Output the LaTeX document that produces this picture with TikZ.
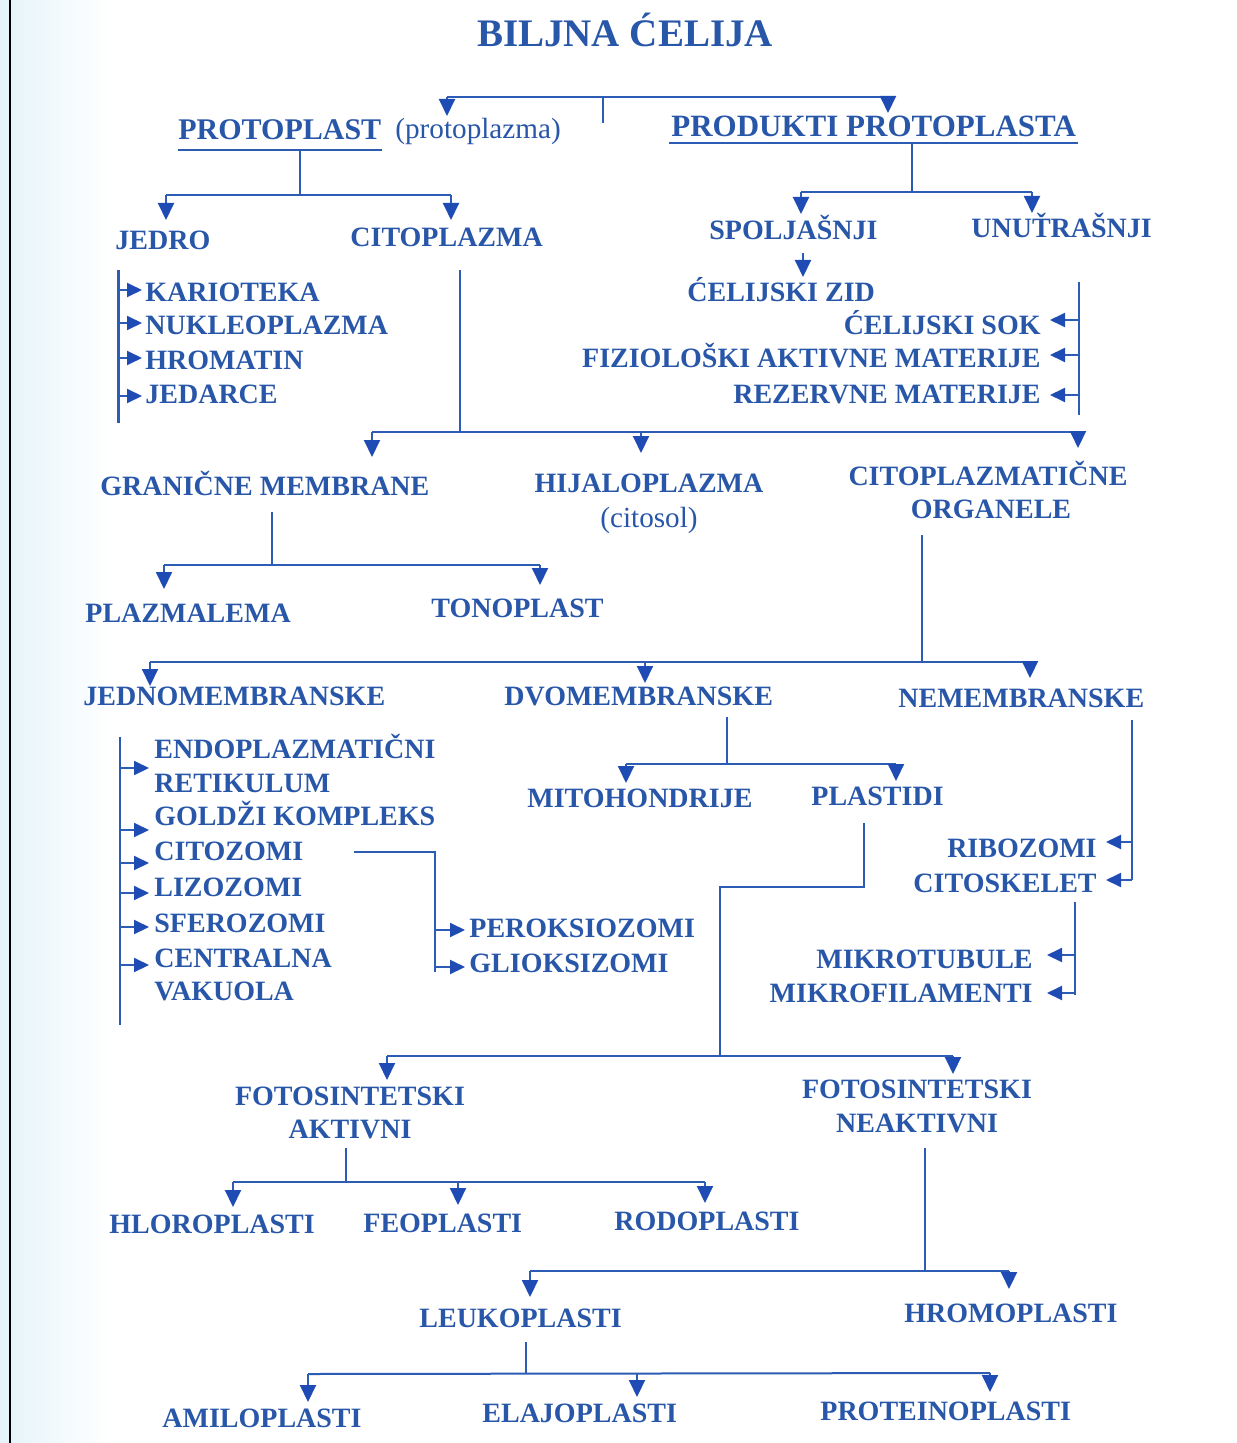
\documentclass[tikz,border=0pt]{standalone}
\usepackage{fontspec}
\setmainfont{Liberation Serif}
\usetikzlibrary{arrows.meta}
\definecolor{cblue}{RGB}{40,86,168}
\definecolor{lblue}{RGB}{45,92,180}
\definecolor{ablue}{RGB}{30,75,180}
\definecolor{fadeblue}{RGB}{228,243,250}
\tikzset{
  lbl/.style={font=\bfseries\fontsize{14}{16}\selectfont, text=cblue, inner sep=0pt, anchor=base west},
  lblr/.style={lbl, anchor=base east},
  lblc/.style={lbl, anchor=base},
  hdr/.style={lbl, font=\bfseries\fontsize{15}{17}\selectfont},
  reg/.style={lbl, font=\fontsize{14.6}{17}\selectfont},
  ln/.style={draw=lblue, line width=1pt},
  arrd/.style={ln, -{Triangle[width=8pt,length=8.5pt,color=ablue]}},
  arrh/.style={ln, -{Triangle[width=7pt,length=7.5pt,color=ablue]}},
}
\begin{document}
\begin{tikzpicture}[x=0.5pt,y=-0.5pt]
\useasboundingbox (0,0) rectangle (1236,1443);
\fill[white] (0,0) rectangle (1236,1443);
\shade[left color=fadeblue, right color=white] (0,0) rectangle (110,1443);
\draw[black, line width=1pt] (10,0) -- (10,1443);

% ---------- title and level 1
\node[lblc, font=\bfseries\fontsize{19.5}{22}\selectfont] (title) at (625,47) {BILJNA ĆELIJA};
\coordinate (s0) at (603,123); \coordinate (s0t) at (603,97);
\coordinate (b0l) at (447,97); \coordinate (b0r) at (888,97);
\coordinate (a0l) at (447,116); \coordinate (a0r) at (888,113);
\draw[ln] (s0) -- (s0t);
\draw[ln] (b0l) -- (b0r);
\draw[arrd] (b0l) -- (a0l);
\draw[arrd] (b0r) -- (a0r);

\node[hdr] (proto) at (178,140) {PROTOPLAST};
\node[reg] (protoz) at (395,139) {(protoplazma)};
\draw[ln] ([yshift=-5pt]proto.base west) -- ([yshift=-5pt]proto.base east);
\node[hdr, font=\bfseries\fontsize{15.5}{17}\selectfont] (prod) at (671,137) {PRODUKTI PROTOPLASTA};
\draw[ln] ([xshift=-1pt,yshift=-3pt]prod.base west) -- ([xshift=1pt,yshift=-3pt]prod.base east);

% ---------- protoplast
\coordinate (p1) at (300,150); \coordinate (p2) at (300,195);
\coordinate (p3l) at (166,195); \coordinate (p3r) at (451,195);
\coordinate (p4l) at (166,220); \coordinate (p4r) at (451,220);
\draw[ln] (p1) -- (p2);
\draw[ln] (p3l) -- (p3r);
\draw[arrd] (p3l) -- (p4l);
\draw[arrd] (p3r) -- (p4r);
\node[lbl] (jedro) at (115,250) {JEDRO};
\node[lbl] (citop) at (350,247) {CITOPLAZMA};

% jedro bracket
\coordinate (j1) at (118,270); \coordinate (j2) at (118,423);
\draw[ln, line width=1.5pt] (j1) -- (j2);
\coordinate (ja1) at (118,290); \coordinate (jb1) at (142,290);
\coordinate (ja2) at (118,323); \coordinate (jb2) at (142,323);
\coordinate (ja3) at (118,358); \coordinate (jb3) at (142,358);
\coordinate (ja4) at (118,396); \coordinate (jb4) at (142,396);
\draw[arrh] (ja1) -- (jb1);
\draw[arrh] (ja2) -- (jb2);
\draw[arrh] (ja3) -- (jb3);
\draw[arrh] (ja4) -- (jb4);
\node[lbl] (kar) at (145,302) {KARIOTEKA};
\node[lbl] (nuk) at (145,335) {NUKLEOPLAZMA};
\node[lbl] (hro) at (145,370) {HROMATIN};
\node[lbl] (jed) at (145,403) {JEDARCE};

% ---------- produkti
\coordinate (q1) at (912,143); \coordinate (q2) at (912,192);
\coordinate (q3l) at (801,192); \coordinate (q3r) at (1032,192);
\coordinate (q4l) at (801,214); \coordinate (q4r) at (1032,213);
\draw[ln] (q1) -- (q2);
\draw[ln] (q3l) -- (q3r);
\draw[arrd] (q3l) -- (q4l);
\draw[arrd] (q3r) -- (q4r);
\node[lbl] (spolj) at (709,240) {SPOLJAŠNJI};
\node[lbl] (unut) at (971,238) {UNUŤRAŠNJI};
\coordinate (sa) at (803,253); \coordinate (sb) at (803,277);
\draw[arrd] (sa) -- (sb);
\node[lbl] (zid) at (687,302) {ĆELIJSKI ZID};

\coordinate (r1) at (1079,282); \coordinate (r2) at (1079,415);
\draw[ln] (r1) -- (r2);
\coordinate (ra1) at (1079,320); \coordinate (rb1) at (1050,320);
\coordinate (ra2) at (1079,355); \coordinate (rb2) at (1050,355);
\coordinate (ra3) at (1079,395); \coordinate (rb3) at (1050,395);
\draw[arrh] (ra1) -- (rb1);
\draw[arrh] (ra2) -- (rb2);
\draw[arrh] (ra3) -- (rb3);
\node[lblr] (sok) at (1041,335) {ĆELIJSKI SOK};
\node[lblr] (fiz) at (1041,368) {FIZIOLOŠKI AKTIVNE MATERIJE};
\node[lblr] (rez) at (1041,403) {REZERVNE MATERIJE};

% ---------- citoplazma
\coordinate (c1) at (460,270); \coordinate (c2) at (460,432);
\coordinate (c3l) at (372,432); \coordinate (c3m) at (641,432); \coordinate (c3r) at (1078,432);
\coordinate (c4l) at (372,457); \coordinate (c4m) at (641,453); \coordinate (c4r) at (1078,448);
\draw[ln] (c1) -- (c2);
\draw[ln] (c3l) -- (c3r);
\draw[arrd] (c3l) -- (c4l);
\draw[arrd] (c3m) -- (c4m);
\draw[arrd] (c3r) -- (c4r);
\node[lbl] (gran) at (100,495) {GRANIČNE MEMBRANE};
\node[lblc] (hij) at (649,492) {HIJALOPLAZMA};
\node[lblc, font=\fontsize{14.6}{17}\selectfont] (cits) at (649,527) {(citosol)};
\node[lblc] (org1) at (988,485) {CITOPLAZMATIČNE};
\node[lblc] (org2) at (991,518) {ORGANELE};

% granicne membrane
\coordinate (g1) at (272,512); \coordinate (g2) at (272,565);
\coordinate (g3l) at (164,565); \coordinate (g3r) at (540,565);
\coordinate (g4l) at (164,589); \coordinate (g4r) at (540,585);
\draw[ln] (g1) -- (g2);
\draw[ln] (g3l) -- (g3r);
\draw[arrd] (g3l) -- (g4l);
\draw[arrd] (g3r) -- (g4r);
\node[lbl] (plaz) at (85,622) {PLAZMALEMA};
\node[lbl] (tono) at (431,617) {TONOPLAST};

% organele
\coordinate (o1) at (922,535); \coordinate (o2) at (922,662);
\coordinate (o3l) at (150,662); \coordinate (o3m) at (645,662); \coordinate (o3r) at (1030,662);
\coordinate (o4l) at (150,686); \coordinate (o4m) at (645,683); \coordinate (o4r) at (1030,678);
\draw[ln] (o1) -- (o2);
\draw[ln] (o3l) -- (o3r);
\draw[arrd] (o3l) -- (o4l);
\draw[arrd] (o3m) -- (o4m);
\draw[arrd] (o3r) -- (o4r);
\node[lbl] (jedn) at (83,705) {JEDNOMEMBRANSKE};
\node[lbl] (dvom) at (504,705) {DVOMEMBRANSKE};
\node[lbl] (nemem) at (898,707) {NEMEMBRANSKE};

% jednomembranske bracket
\coordinate (e1) at (120,737); \coordinate (e2) at (120,1025);
\draw[ln] (e1) -- (e2);
\foreach \yy [count=\i] in {768,830,863,893,927,965} {
  \coordinate (ea\i) at (120,\yy); \coordinate (eb\i) at (149,\yy);
  \draw[arrh] (ea\i) -- (eb\i);
}
\node[lbl] (endo) at (154,758) {ENDOPLAZMATIČNI};
\node[lbl] (ret) at (154,792) {RETIKULUM};
\node[lbl] (gold) at (154,825) {GOLDŽI KOMPLEKS};
\node[lbl] (citoz) at (154,860) {CITOZOMI};
\node[lbl] (lizo) at (154,896) {LIZOZOMI};
\node[lbl] (sfer) at (154,932) {SFEROZOMI};
\node[lbl] (cent) at (154,967) {CENTRALNA};
\node[lbl] (vak) at (154,1000) {VAKUOLA};

% citozomi
\coordinate (z1) at (354,852); \coordinate (z2) at (435,852); \coordinate (z3) at (435,972);
\draw[ln] (z1) -- (z2) -- (z3);
\coordinate (za1) at (435,930); \coordinate (zb1) at (465,930);
\coordinate (za2) at (435,967); \coordinate (zb2) at (465,967);
\draw[arrh] (za1) -- (zb1);
\draw[arrh] (za2) -- (zb2);
\node[lbl] (perok) at (469,937) {PEROKSIOZOMI};
\node[lbl] (gliok) at (469,972) {GLIOKSIZOMI};

% dvomembranske
\coordinate (d1) at (727,717); \coordinate (d2) at (727,764);
\coordinate (d3l) at (626,764); \coordinate (d3r) at (896,764);
\coordinate (d4l) at (626,783); \coordinate (d4r) at (896,781);
\draw[ln] (d1) -- (d2);
\draw[ln] (d3l) -- (d3r);
\draw[arrd] (d3l) -- (d4l);
\draw[arrd] (d3r) -- (d4r);
\node[lbl] (mito) at (527,807) {MITOHONDRIJE};
\node[lbl] (plast) at (811,805) {PLASTIDI};

% nemembranske
\coordinate (n1) at (1132,720); \coordinate (n2) at (1132,880);
\draw[ln] (n1) -- (n2);
\coordinate (na1) at (1132,842); \coordinate (nb1) at (1106,842);
\coordinate (na2) at (1132,880); \coordinate (nb2) at (1106,880);
\draw[arrh] (na1) -- (nb1);
\draw[arrh] (na2) -- (nb2);
\node[lblr] (ribo) at (1097,857) {RIBOZOMI};
\node[lblr] (citsk) at (1097,892) {CITOSKELET};
\coordinate (k1) at (1075,902); \coordinate (k2) at (1075,995);
\draw[ln] (k1) -- (k2);
\coordinate (ka1) at (1075,955); \coordinate (kb1) at (1047,955);
\coordinate (ka2) at (1075,993); \coordinate (kb2) at (1047,993);
\draw[arrh] (ka1) -- (kb1);
\draw[arrh] (ka2) -- (kb2);
\node[lblr] (mtub) at (1033,968) {MIKROTUBULE};
\node[lblr] (mfil) at (1033,1002) {MIKROFILAMENTI};

% plastidi
\coordinate (l1) at (864,823); \coordinate (l2) at (864,887);
\coordinate (l3) at (720,887); \coordinate (l4) at (720,1056);
\coordinate (l5l) at (387,1056); \coordinate (l5r) at (953,1056);
\coordinate (l6l) at (387,1080); \coordinate (l6r) at (953,1074);
\draw[ln] (l1) -- (l2) -- (l3) -- (l4);
\draw[ln] (l5l) -- (l5r);
\draw[arrd] (l5l) -- (l6l);
\draw[arrd] (l5r) -- (l6r);
\node[lblc] (fa1) at (350,1105) {FOTOSINTETSKI};
\node[lblc] (fa2) at (350,1138) {AKTIVNI};
\node[lblc] (fn1) at (917,1098) {FOTOSINTETSKI};
\node[lblc] (fn2) at (917,1132) {NEAKTIVNI};

% aktivni
\coordinate (f1) at (346,1148); \coordinate (f2) at (346,1182);
\coordinate (f3l) at (233,1182); \coordinate (f3m) at (458,1182); \coordinate (f3r) at (705,1182);
\coordinate (f4l) at (233,1207); \coordinate (f4m) at (458,1205); \coordinate (f4r) at (705,1203);
\draw[ln] (f1) -- (f2);
\draw[ln] (f3l) -- (f3r);
\draw[arrd] (f3l) -- (f4l);
\draw[arrd] (f3m) -- (f4m);
\draw[arrd] (f3r) -- (f4r);
\node[lbl] (hlor) at (109,1233) {HLOROPLASTI};
\node[lbl] (feo) at (363,1232) {FEOPLASTI};
\node[lbl] (rodo) at (614,1230) {RODOPLASTI};

% neaktivni
\coordinate (h1) at (925,1148); \coordinate (h2) at (925,1271);
\coordinate (h3l) at (530,1271); \coordinate (h3r) at (1009,1271);
\coordinate (h4l) at (530,1297); \coordinate (h4r) at (1009,1289);
\draw[ln] (h1) -- (h2);
\draw[ln] (h3l) -- (h3r);
\draw[arrd] (h3l) -- (h4l);
\draw[arrd] (h3r) -- (h4r);
\node[lbl] (leuk) at (419,1327) {LEUKOPLASTI};
\node[lbl] (hrom) at (904,1322) {HROMOPLASTI};

% leukoplasti
\coordinate (v1) at (526,1342); \coordinate (v2) at (526,1374);
\coordinate (v3l) at (308,1374); \coordinate (v3m) at (637,1374); \coordinate (v3r) at (990,1373);
\coordinate (v4l) at (308,1402); \coordinate (v4m) at (637,1397); \coordinate (v4r) at (990,1392);
\draw[ln] (v1) -- (v2);
\draw[ln] (v3l) -- (v3r);
\draw[arrd] (v3l) -- (v4l);
\draw[arrd] (v3m) -- (v4m);
\draw[arrd] (v3r) -- (v4r);
\node[lbl] (amil) at (162,1427) {AMILOPLASTI};
\node[lbl] (elaj) at (482,1422) {ELAJOPLASTI};
\node[lbl] (prot) at (820,1420) {PROTEINOPLASTI};
\end{tikzpicture}
\end{document}
